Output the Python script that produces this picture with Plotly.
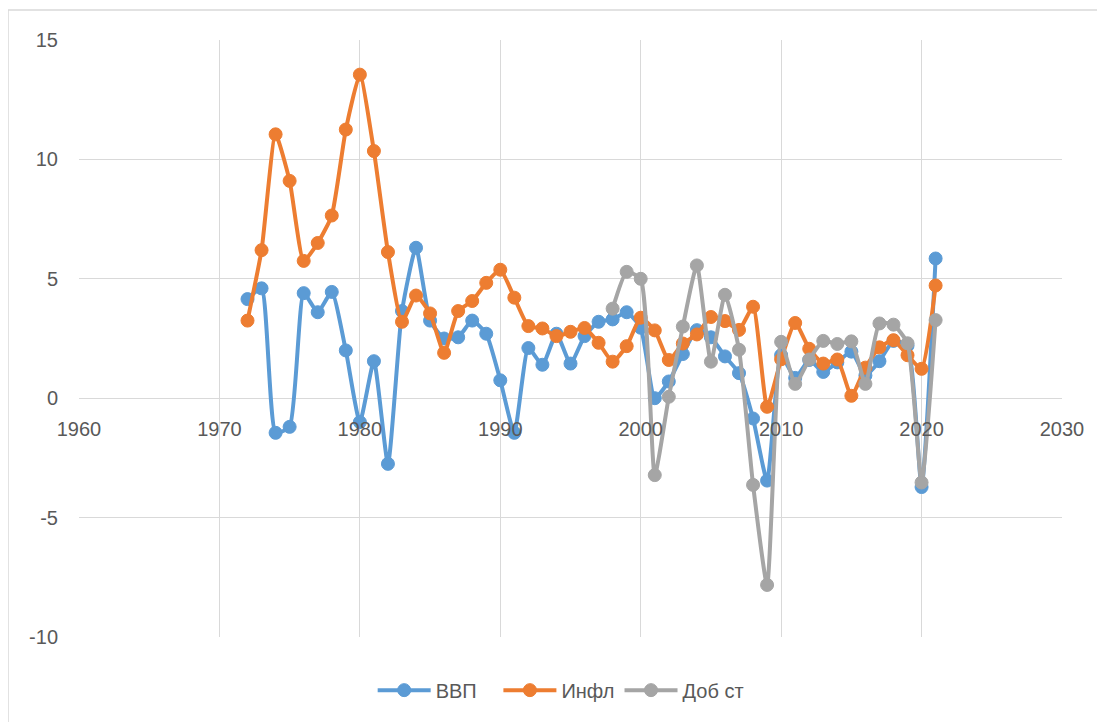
import plotly.graph_objects as go

# years
years_main = list(range(1972, 2022))
years_dob = list(range(1998, 2022))

# ВВП
vvp = [4.15, 4.6, -1.45, -1.2, 4.4, 3.6, 4.45, 2.0, -1.0, 1.55,
       -2.75, 3.65, 6.3, 3.25, 2.5, 2.55, 3.25, 2.7, 0.75, -1.45,
       2.1, 1.4, 2.7, 1.45, 2.6, 3.2, 3.3, 3.6, 2.95, 0.0,
       0.7, 1.85, 2.85, 2.55, 1.75, 1.05, -0.85, -3.45, 1.8, 0.85,
       1.6, 1.1, 1.5, 1.95, 0.95, 1.55, 2.4, 2.2, -3.72, 5.85]

# Инфл
infl = [3.25, 6.2, 11.05, 9.1, 5.75, 6.5, 7.65, 11.25, 13.55, 10.35,
        6.12, 3.2, 4.3, 3.55, 1.9, 3.65, 4.07, 4.83, 5.38, 4.21,
        3.02, 2.92, 2.6, 2.78, 2.94, 2.32, 1.53, 2.18, 3.37, 2.84,
        1.6, 2.29, 2.67, 3.4, 3.23, 2.86, 3.83, -0.36, 1.63, 3.15,
        2.07, 1.45, 1.62, 0.1, 1.28, 2.13, 2.43, 1.8, 1.23, 4.72]

# Доб ст
dob = [3.75, 5.29, 5.0, -3.22, 0.06, 3.0, 5.56, 1.53, 4.33, 2.03,
       -3.63, -7.82, 2.36, 0.6, 1.62, 2.4, 2.27, 2.38, 0.6, 3.13,
       3.08, 2.3, -3.53, 3.27]

y_ticks = [-10, -5, 0, 5, 10, 15]
y_ticklabels = ["-10", "-5", "0", "5", "10", "15"]

series = [("ВВП\u00a0\u00a0\u00a0", years_main, vvp, "#5B9BD5"),
          ("Инфл", years_main, infl, "#ED7D31"),
          ("Доб ст", years_dob, dob, "#A5A5A5")]

fig = go.Figure()
for name, xs, ys, col in series:
    fig.add_trace(go.Scatter(
        x=xs, y=ys, name=name, mode="lines+markers",
        line=dict(color=col, width=4, shape="spline", smoothing=0.5),
        marker=dict(color=col, size=13, line=dict(color=col, width=1)),
    ))

grid = "#D9D9D9"
txt = "#595959"

# page has an 8px body margin, so the figure is sized/offset to match
fig.update_layout(
    width=1097, height=714,
    margin=dict(l=71, r=43, t=32, b=85),
    paper_bgcolor="white", plot_bgcolor="white",
    font=dict(family="Liberation Sans, Arial, sans-serif", size=20, color=txt),
    showlegend=True,
    legend=dict(orientation="h", x=0.49, xanchor="center", y=-0.089, yanchor="middle",
                itemwidth=53, font=dict(size=20, color=txt)),
    xaxis=dict(range=[1960, 2030], dtick=10, tick0=1960, showgrid=True,
               gridcolor=grid, gridwidth=1, zeroline=False, showline=False,
               anchor="free", position=0.4, ticks="", ticklabelstandoff=17,
               tickfont=dict(size=20, color=txt)),
    yaxis=dict(range=[-10, 15], tickvals=y_ticks, ticktext=y_ticklabels,
               showgrid=True, gridcolor=grid, gridwidth=1,
               zeroline=True, zerolinecolor=grid, zerolinewidth=1, showline=False,
               ticks="", ticklabelstandoff=20, tickfont=dict(size=20, color=txt)),
)

# outer chart border (left/top edges visible)
fig.add_shape(type="rect", xref="paper", yref="paper",
              x0=-71 / 983, x1=1100 / 983,
              y0=-120 / 597, y1=(597 + 30) / 597,
              line=dict(color="#D9D9D9", width=1.5), layer="below")

fig.write_html("out.html")
